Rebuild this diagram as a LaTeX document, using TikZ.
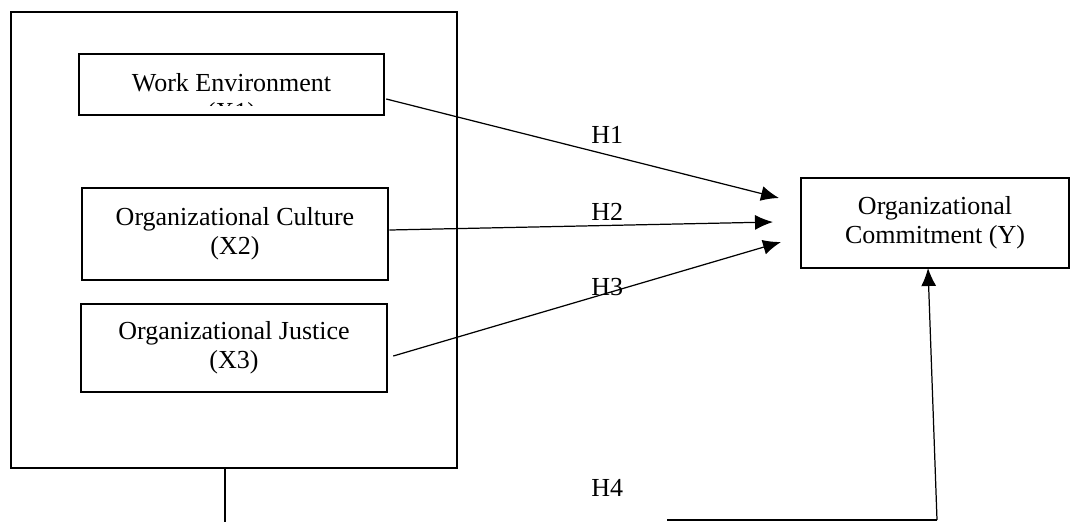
\documentclass[tikz,border=0pt]{standalone}
\usepackage{fontspec}
\setmainfont{Liberation Serif}
\usetikzlibrary{arrows.meta}
\tikzset{
  txt/.style={font=\fontsize{14.8}{16.5}\selectfont, align=center},
  box/.style={draw, line width=1.5pt, inner sep=0pt, txt},
  hyp/.style={anchor=west, inner sep=0pt, txt},
}
\begin{document}
\begin{tikzpicture}[x=0.02cm, y=-0.02cm, >={Latex[length=3.6mm,width=3mm]}]
\useasboundingbox (0,0) rectangle (1071,522);
% independent variables
\node[box, minimum width=8.92cm, minimum height=9.12cm] (grp) at (234,240) {};
\node[box, minimum width=6.1cm, minimum height=1.22cm] (we) at (231.5,84.5) {};
\begin{scope}
\clip (79,54) rectangle (384,105);
\node[txt, inner sep=0pt] (wetxt) at (231.5,100) {Work Environment\\(X1)};
\end{scope}
\node[box, minimum width=6.12cm, minimum height=1.84cm] (cul) at (235,234) {Organizational Culture\\(X2)};
\node[box, minimum width=6.12cm, minimum height=1.76cm] (jus) at (234,348) {Organizational Justice\\(X3)};
% dependent variable
\node[box, minimum width=5.36cm, minimum height=1.8cm] (cmt) at (935,223) {Organizational\\Commitment (Y)};
\coordinate (t1) at (779,198);
\coordinate (t2) at (773,222);
\coordinate (t3) at (781,242);
\coordinate (t4) at (928,268);
\draw[->, line width=.7pt] ([shift={(1,14.5)}]we.east) -- (t1);
\draw[->, line width=.7pt] ([shift={(0,-4)}]cul.east) -- (t2);
\draw[->, line width=.7pt] ([shift={(5,8)}]jus.east) -- (t3);
\node[hyp] (h1) at (591,135) {H1};
\node[hyp] (h2) at (591,212) {H2};
\node[hyp] (h3) at (591,287) {H3};
\node[hyp] (h4) at (591,488) {H4};
% H4 line
\coordinate (h4l) at (225,522);
\coordinate (h4a) at (667,520);
\coordinate (h4b) at (937,520);
\draw[line width=.7pt] (grp.south -| h4l) -- (h4l);
\draw[line width=.7pt] (h4a) -- (h4b);
\draw[->, line width=.7pt] (h4b) -- (t4);
\end{tikzpicture}
\end{document}
